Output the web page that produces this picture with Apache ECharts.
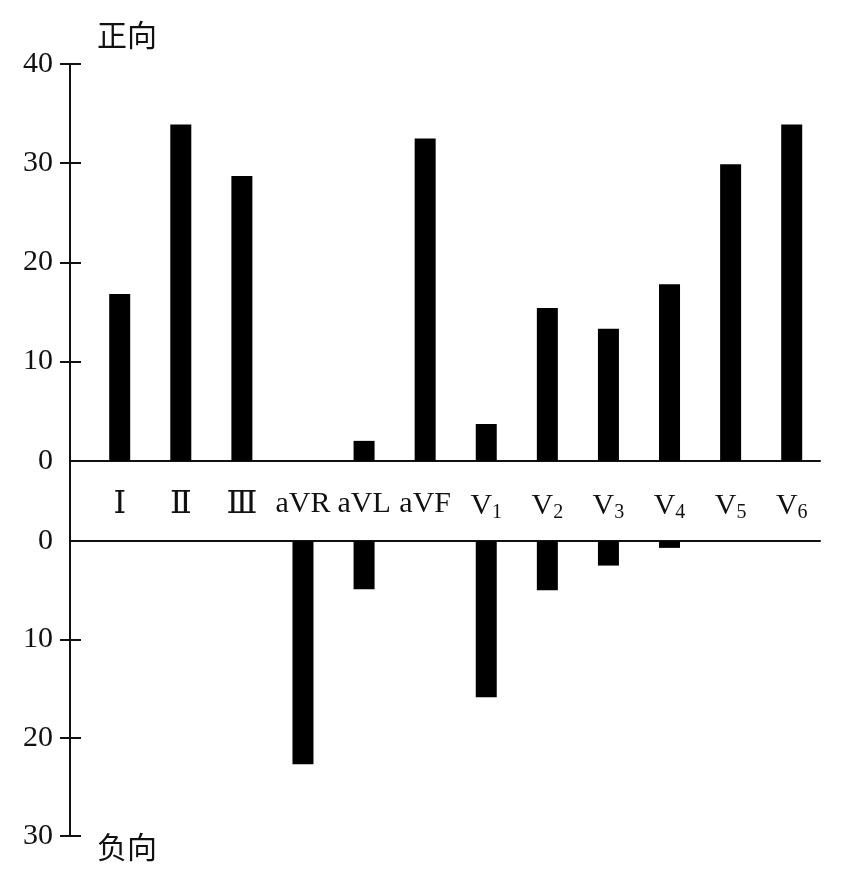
<!DOCTYPE html>
<html>
<head>
<meta charset="utf-8">
<script src="https://cdn.jsdelivr.net/npm/echarts@6/dist/echarts.min.js"></script>
<style>
html,body{margin:0;padding:0;background:#fff;}
#chart{width:844px;height:874px;}
</style>
</head>
<body>
<div id="chart"></div>
<script>
// ---- data ----
const leads = ['Ⅰ', 'Ⅱ', 'Ⅲ', 'aVR', 'aVL', 'aVF', 'V1', 'V2', 'V3', 'V4', 'V5', 'V6'];
const positiveValues = [16.8, 33.9, 28.7, 0, 2.0, 32.5, 3.7, 15.4, 13.3, 17.8, 29.9, 33.9];
const negativeValues = [0, 0, 0, 22.7, 4.9, 0, 15.9, 5.0, 2.5, 0.7, 0, 0];
const positiveTicks = [10, 20, 30, 40];
const negativeTicks = [10, 20, 30];
const positiveName = '正向';
const negativeName = '负向';

// ---- chart ----
const INK = '#111';
const SERIF = '"Liberation Serif", "Times New Roman", serif';
const X_MIN = -0.8136, X_MAX = 11.463;
const leadIdx = leads.map((_, i) => i);

function leadLabel(v) {
  const name = leads[Math.round(v)];
  if (name === undefined) return '';
  const m = /^V(\d)$/.exec(name);
  if (m) return 'V{sub|' + m[1] + '}';
  if (/^[\u2160-\u216F]$/.test(name)) return '{roman|' + name + '}';
  return name;
}

const chart = echarts.init(document.getElementById('chart'), null, {renderer: 'canvas'});
const axisLineStyle = {color: INK, width: 2};

chart.setOption({
  animation: false,
  backgroundColor: '#fff',
  grid: [
    {left: 70, width: 750, top: 64, height: 396.7},
    {left: 70, width: 750, top: 541, height: 295},
    {left: 70, width: 750, top: 64, height: 772}
  ],
  xAxis: [
    {
      gridIndex: 0, type: 'value', min: X_MIN, max: X_MAX, position: 'bottom',
      axisLine: {show: true, onZero: false, lineStyle: axisLineStyle},
      axisTick: {show: false}, splitLine: {show: false},
      axisLabel: {
        show: true, customValues: leadIdx, formatter: leadLabel,
        margin: 28, fontSize: 30, fontFamily: SERIF, color: INK,
        rich: {
          sub: {fontSize: 20, fontFamily: SERIF, color: INK, padding: [14, 0, 0, 0]},
          roman: {fontSize: 32, fontFamily: '"DejaVu Serif", serif', color: INK}
        }
      }
    },
    {
      gridIndex: 1, type: 'value', min: X_MIN, max: X_MAX, position: 'top',
      axisLine: {show: true, onZero: false, lineStyle: axisLineStyle},
      axisTick: {show: false}, splitLine: {show: false}, axisLabel: {show: false}
    },
    {gridIndex: 2, type: 'value', min: 0, max: 1, show: false}
  ],
  yAxis: [
    {
      gridIndex: 0, type: 'value', min: 0, max: 40, interval: 10, position: 'left',
      name: positiveName, nameLocation: 'end', nameGap: 14,
      nameTextStyle: {fontSize: 30, fontFamily: '"Noto Sans CJK SC", sans-serif', color: INK, align: 'left', padding: [0, 0, 0, 27]},
      axisLine: {show: true, onZero: false, lineStyle: axisLineStyle},
      axisTick: {show: true, length: 10, customValues: positiveTicks, lineStyle: axisLineStyle},
      axisLabel: {margin: 17, fontSize: 30, fontFamily: SERIF, color: INK},
      splitLine: {show: false}
    },
    {
      gridIndex: 0, type: 'value', min: 0, max: 40, interval: 10, position: 'left',
      axisLine: {show: false, onZero: false},
      axisTick: {show: true, inside: true, length: 11, customValues: positiveTicks, lineStyle: axisLineStyle},
      axisLabel: {show: false}, splitLine: {show: false}
    },
    {
      gridIndex: 1, type: 'value', min: 0, max: 30, interval: 10, position: 'left', inverse: true,
      name: negativeName, nameLocation: 'end', nameGap: -4,
      nameTextStyle: {fontSize: 30, fontFamily: '"Noto Sans CJK SC", sans-serif', color: INK, align: 'left', padding: [0, 0, 0, 27]},
      axisLine: {show: true, onZero: false, lineStyle: axisLineStyle},
      axisTick: {show: true, length: 10, customValues: negativeTicks, lineStyle: axisLineStyle},
      axisLabel: {margin: 17, fontSize: 30, fontFamily: SERIF, color: INK},
      splitLine: {show: false}
    },
    {
      gridIndex: 1, type: 'value', min: 0, max: 30, interval: 10, position: 'left', inverse: true,
      axisLine: {show: false, onZero: false},
      axisTick: {show: true, inside: true, length: 11, customValues: negativeTicks, lineStyle: axisLineStyle},
      axisLabel: {show: false}, splitLine: {show: false}
    },
    {
      gridIndex: 2, type: 'value', min: 0, max: 1, position: 'left',
      axisLine: {show: true, onZero: false, lineStyle: axisLineStyle},
      axisTick: {show: false}, axisLabel: {show: false}, splitLine: {show: false}
    }
  ],
  series: [
    {
      type: 'bar', xAxisIndex: 0, yAxisIndex: 0, barWidth: 21,
      itemStyle: {color: '#000'},
      data: positiveValues.map((v, i) => [i, v])
    },
    {
      type: 'bar', xAxisIndex: 1, yAxisIndex: 2, barWidth: 21,
      itemStyle: {color: '#000'},
      data: negativeValues.map((v, i) => [i, v])
    }
  ]
});
</script>
</body>
</html>
